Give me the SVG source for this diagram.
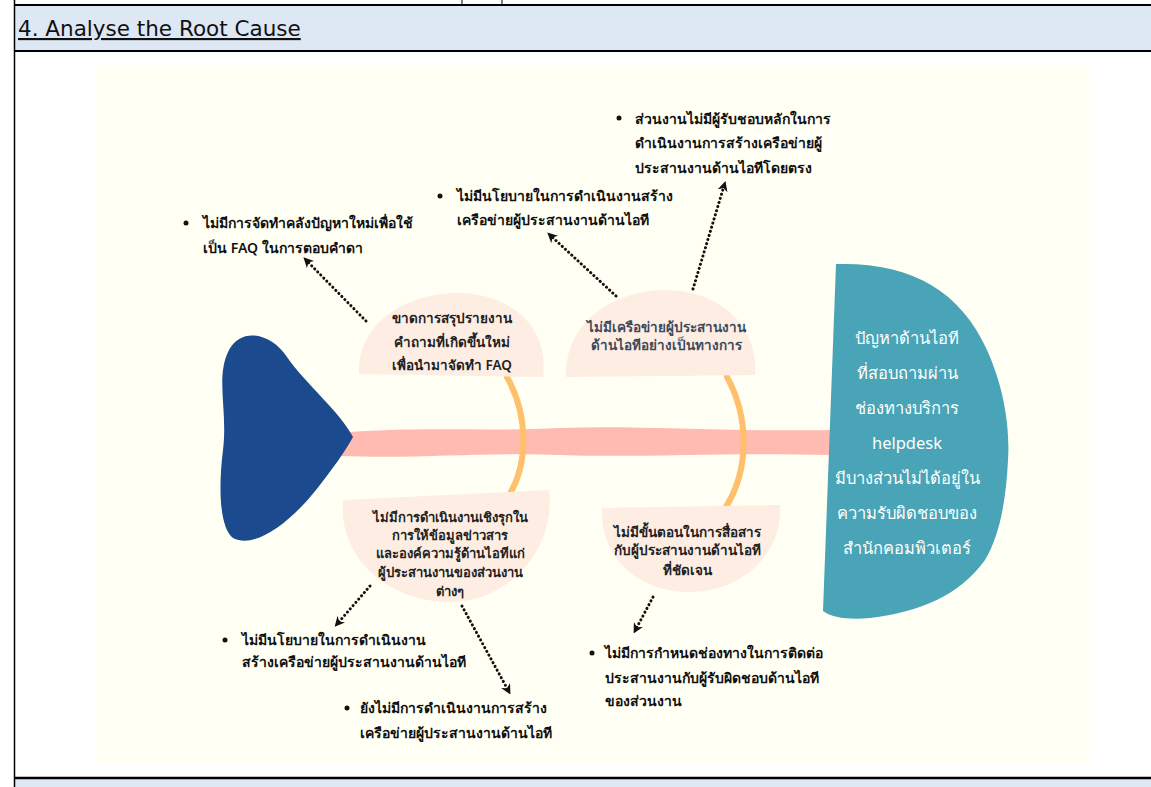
<svg xmlns="http://www.w3.org/2000/svg" width="1151" height="787" viewBox="0 0 1151 787">
<defs>
<style>
.th{font-family:"Noto Sans","DejaVu Sans",sans-serif;}
.bul{font-size:14px;fill:#111;font-weight:600;}
.box{font-size:13.5px;fill:#222;font-weight:600;text-anchor:middle;}
.small{font-size:13px;}
.head{font-size:16.5px;fill:#ffffff;text-anchor:middle;}
.arr{fill:none;stroke:#111;stroke-width:3;stroke-dasharray:0.1 4.2;stroke-linecap:round;}
.cause{fill:#fdede3;}
.bone{fill:none;stroke:#ffc06b;stroke-width:6;stroke-linecap:round;}
</style>
<marker id="ah" viewBox="0 0 10 10" refX="5" refY="5" markerWidth="3.4" markerHeight="3.4" orient="auto" markerUnits="strokeWidth">
<path d="M0,0 L10,5 L0,10 L3,5 Z" fill="#111"/>
</marker>
</defs>
<rect x="0" y="0" width="1151" height="787" fill="#ffffff"/>
<!-- table frame -->
<rect x="14" y="5" width="1137" height="46" fill="#dde8f4"/>
<rect x="14" y="778" width="1137" height="9" fill="#dde8f4"/>
<line x1="14" y1="5" x2="1151" y2="5" stroke="#000" stroke-width="2"/>
<line x1="14" y1="51" x2="1151" y2="51" stroke="#000" stroke-width="2"/>
<line x1="14" y1="778" x2="1151" y2="778" stroke="#000" stroke-width="2.5"/>
<line x1="14.5" y1="0" x2="14.5" y2="787" stroke="#000" stroke-width="1.5"/>
<line x1="462" y1="0" x2="462" y2="5" stroke="#000" stroke-width="1"/>
<line x1="502" y1="0" x2="502" y2="5" stroke="#000" stroke-width="1"/>
<text x="18" y="36" font-family="DejaVu Sans, sans-serif" font-size="21.5" fill="#111" text-decoration="underline">4. Analyse the Root Cause</text>
<!-- panel -->
<rect x="96" y="65" width="993" height="699" fill="#fffff3"/>

<g id="spine">
<path d="M340,433 C420,426 480,432 560,428 C640,425 720,432 830,430 L830,455 C720,452 640,458 560,455 C480,452 420,459 340,456 Z" fill="#ffbab2"/>
<path class="bone" d="M507,377 C528,415 532,470 500,508"/>
<path class="bone" d="M727,377 C748,415 752,470 722,513"/>
</g>

<g id="fish-tail">
<path d="M353,437 C340,412 305,383 287,357 C272,334 242,326 229,350 C215,377 228,410 223,450 C218,490 220,528 233,538 C256,550 292,520 316,490 C332,470 346,450 353,437 Z" fill="#1c4a8e"/>
</g>

<g id="problem">
<path d="M836,264 C910,262 960,290 987,350 C1005,390 1010,430 1008,460 C1006,500 1000,535 985,560 C960,595 920,612 870,618 C850,620 832,618 823,611 Z" fill="#48a4b6"/>
<text class="th head" x="907" y="344">ปัญหาด้านไอที</text>
<text class="th head" x="907" y="379">ที่สอบถามผ่าน</text>
<text class="th head" x="907" y="414">ช่องทางบริการ</text>
<text class="th head" x="907" y="449">helpdesk</text>
<text class="th head" x="907" y="484">มีบางส่วนไม่ได้อยู่ใน</text>
<text class="th head" x="907" y="519">ความรับผิดชอบของ</text>
<text class="th head" x="907" y="554">สำนักคอมพิวเตอร์</text>
</g>

<g id="cause1">
<path class="cause" d="M359,374 C357,322 408,293 458,293 C515,294 549,330 543,377 Z"/>
<text class="th box" x="452" y="323">ขาดการสรุปรายงาน</text>
<text class="th box" x="452" y="347">คำถามที่เกิดขึ้นใหม่</text>
<text class="th box" x="452" y="370">เพื่อนำมาจัดทำ FAQ</text>
</g>

<g id="cause2">
<path class="cause" d="M566,377 C564,325 610,291 664,290 C720,290 758,325 755,375 Z"/>
<text class="th box" x="666" y="332" style="fill:#3d4a5c">ไม่มีเครือข่ายผู้ประสานงาน</text>
<text class="th box" x="666" y="350" style="fill:#3d4a5c">ด้านไอทีอย่างเป็นทางการ</text>
</g>

<g id="cause3">
<path class="cause" d="M343,500 L549,490 C556,548 510,602 450,602 C390,602 338,560 343,500 Z"/>
<text class="th box small" x="450" y="522">ไม่มีการดำเนินงานเชิงรุกใน</text>
<text class="th box small" x="450" y="540">การให้ข้อมูลข่าวสาร</text>
<text class="th box small" x="450" y="558">และองค์ความรู้ด้านไอทีแก่</text>
<text class="th box small" x="450" y="577">ผู้ประสานงานของส่วนงาน</text>
<text class="th box small" x="450" y="596">ต่างๆ</text>
</g>

<g id="cause4">
<path class="cause" d="M602,508 L780,505 C783,555 740,592 690,592 C640,592 600,560 602,508 Z"/>
<text class="th box" x="687" y="537">ไม่มีขั้นตอนในการสื่อสาร</text>
<text class="th box" x="687" y="555">กับผู้ประสานงานด้านไอที</text>
<text class="th box" x="687" y="575">ที่ชัดเจน</text>
</g>

<g id="detailA">
<circle cx="186" cy="223" r="2.5" fill="#111"/>
<text class="th bul" x="203" y="228">ไม่มีการจัดทำคลังปัญหาใหม่เพื่อใช้</text>
<text class="th bul" x="203" y="253">เป็น FAQ ในการตอบคำดา</text>
</g>
<g id="detailB">
<circle cx="440" cy="196" r="2.5" fill="#111"/>
<text class="th bul" x="457" y="201">ไม่มีนโยบายในการดำเนินงานสร้าง</text>
<text class="th bul" x="457" y="225">เครือข่ายผู้ประสานงานด้านไอที</text>
</g>
<g id="detailC">
<circle cx="619" cy="118" r="2.5" fill="#111"/>
<text class="th bul" x="635" y="124">ส่วนงานไม่มีผู้รับชอบหลักในการ</text>
<text class="th bul" x="635" y="148">ดำเนินงานการสร้างเครือข่ายผู้</text>
<text class="th bul" x="635" y="173">ประสานงานด้านไอทีโดยตรง</text>
</g>
<g id="detailD">
<circle cx="225" cy="640" r="2.5" fill="#111"/>
<text class="th bul" x="242" y="645">ไม่มีนโยบายในการดำเนินงาน</text>
<text class="th bul" x="242" y="667">สร้างเครือข่ายผู้ประสานงานด้านไอที</text>
</g>
<g id="detailE">
<circle cx="347" cy="708" r="2.5" fill="#111"/>
<text class="th bul" x="360" y="713">ยังไม่มีการดำเนินงานการสร้าง</text>
<text class="th bul" x="360" y="738">เครือข่ายผู้ประสานงานด้านไอที</text>
</g>
<g id="detailF">
<circle cx="592" cy="653" r="2.5" fill="#111"/>
<text class="th bul" x="605" y="658">ไม่มีการกำหนดช่องทางในการติดต่อ</text>
<text class="th bul" x="605" y="683">ประสานงานกับผู้รับผิดชอบด้านไอที</text>
<text class="th bul" x="605" y="706">ของส่วนงาน</text>
</g>

<g id="connectors">
<path class="arr" d="M366,321 L307,261" marker-end="url(#ah)"/>
<path class="arr" d="M616,296 L551,236" marker-end="url(#ah)"/>
<path class="arr" d="M693,289 L724,186" marker-end="url(#ah)"/>
<path class="arr" d="M370,586 L338,623" marker-end="url(#ah)"/>
<path class="arr" d="M462,606 L508,690" marker-end="url(#ah)"/>
<path class="arr" d="M653,597 L636,629" marker-end="url(#ah)"/>
</g>
</svg>
